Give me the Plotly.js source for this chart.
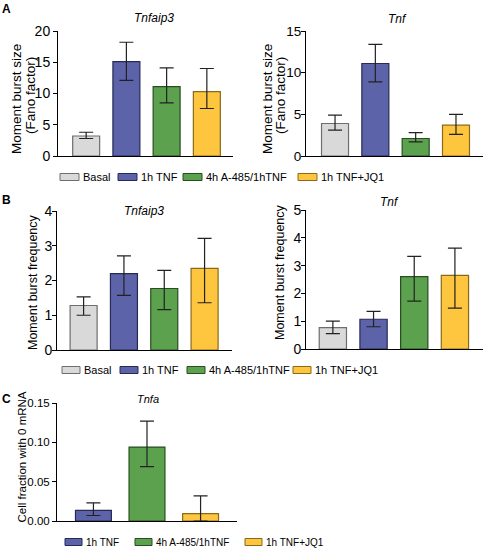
<!DOCTYPE html>
<html>
<head>
<meta charset="utf-8">
<script src="https://cdn.plot.ly/plotly-3.0.1.min.js"></script>
<style>html,body{margin:0;padding:0;background:#fff;}#chart{width:486px;height:549px;}</style>
</head>
<body>
<div id="chart"></div>
<script>
// ---- data ----
var categories4 = ["Basal", "1h TNF", "4h A-485/1hTNF", "1h TNF+JQ1"];
var categoriesC = ["1h TNF", "4h A-485/1hTNF", "1h TNF+JQ1"];

var colors4 = ["#d9d9d9", "#5d63a8", "#5ca14e", "#fec53f"];
var lines4 = ["#6e6e6e", "#262a55", "#284d22", "#8a6a1a"];
var colorsC = ["#5d63a8", "#5ca14e", "#fec53f"];
var linesC = ["#262a55", "#284d22", "#8a6a1a"];

// Panel A: moment burst size (Fano factor)
var sizeTnfaip3 = [3.2, 15.1, 11.1, 10.3];
var sizeTnfaip3Upper = [3.8, 18.2, 14.1, 14.0];
var sizeTnfaip3Lower = [2.8, 12.1, 8.5, 7.6];
var sizeTnf = [3.9, 11.1, 2.1, 3.7];
var sizeTnfUpper = [4.9, 13.4, 2.8, 5.0];
var sizeTnfLower = [3.1, 8.9, 1.7, 2.6];

// Panel B: moment burst frequency
var freqTnfaip3 = [1.28, 2.2, 1.77, 2.35];
var freqTnfaip3Upper = [1.53, 2.71, 2.29, 3.21];
var freqTnfaip3Lower = [1.0, 1.57, 1.16, 1.36];
var freqTnf = [0.77, 1.07, 2.6, 2.65];
var freqTnfUpper = [1.0, 1.35, 3.33, 3.63];
var freqTnfLower = [0.55, 0.8, 1.72, 1.47];

// Panel C: cell fraction with 0 mRNA
var zeroTnfa = [0.0135, 0.094, 0.0095];
var zeroTnfaUpper = [0.023, 0.127, 0.032];
var zeroTnfaLower = [0.007, 0.069, 0.0];

// ---- helpers ----
var W = 486, H = 549;
function px(x){ return x / W; }
function py(y){ return 1 - y / H; }
var FONT = "Arial, 'Liberation Sans', sans-serif";

function barTrace(cats, vals, upper, lower, fills, outlines, xa, ya){
  return {
    type: "bar", x: cats, y: vals, xaxis: xa, yaxis: ya, width: 0.67,
    marker: {color: fills, line: {color: outlines, width: 1.2}},
    error_y: {type: "data", symmetric: false,
      array: upper.map(function(u,i){return u - vals[i];}),
      arrayminus: lower.map(function(l,i){return vals[i] - l;}),
      color: "#222", thickness: 1.2, width: 7},
    showlegend: false, hoverinfo: "x+y"
  };
}

var data = [
  barTrace(categories4, sizeTnfaip3, sizeTnfaip3Upper, sizeTnfaip3Lower, colors4, lines4, "x", "y"),
  barTrace(categories4, sizeTnf, sizeTnfUpper, sizeTnfLower, colors4, lines4, "x2", "y2"),
  barTrace(categories4, freqTnfaip3, freqTnfaip3Upper, freqTnfaip3Lower, colors4, lines4, "x3", "y3"),
  barTrace(categories4, freqTnf, freqTnfUpper, freqTnfLower, colors4, lines4, "x4", "y4"),
  barTrace(categoriesC, zeroTnfa, zeroTnfaUpper, zeroTnfaLower, colorsC, linesC, "x5", "y5")
];

function xAxis(x0, x1, anchor, range){
  return {domain: [px(x0), px(x1)], anchor: anchor, type: "category", range: range,
    showline: true, linecolor: "#000", linewidth: 1, showticklabels: false, ticks: "",
    showgrid: false, zeroline: false, fixedrange: true};
}
function yAxis(y0, y1, anchor, range, dtick, tsize, standoff, fmt){
  return {domain: [py(y1), py(y0)], anchor: anchor, range: range, dtick: dtick, tick0: 0,
    showline: true, linecolor: "#000", linewidth: 1, ticks: "outside", ticklen: 4,
    tickwidth: 1, tickcolor: "#000", showgrid: false, zeroline: false,
    tickfont: {size: tsize, color: "#000", family: FONT}, tickformat: fmt || "",
    ticklabelstandoff: standoff,
    automargin: false, fixedrange: true};
}

var annotations = [];
function ann(text, x, y, size, extra){
  var a = {text: text, x: px(x), y: py(y), xref: "paper", yref: "paper",
    xanchor: "center", yanchor: "middle", showarrow: false,
    font: {size: size, color: "#000", family: FONT}};
  for (var k in extra) a[k] = extra[k];
  annotations.push(a);
}
// panel letters
ann("<b>A</b>", 6, 9, 12);
ann("<b>B</b>", 6, 200, 12);
ann("<b>C</b>", 6, 399, 12);
// gene titles
ann("<i>Tnfaip3</i>", 154, 18, 12);
ann("<i>Tnf</i>", 397, 19, 12);
ann("<i>Tnfaip3</i>", 144, 211, 12);
ann("<i>Tnf</i>", 389, 202, 12);
ann("<i>Tnfa</i>", 148, 399, 11);
// y-axis titles
ann("Moment burst size", 17, 99, 13.5, {textangle: -90});
ann("(Fano factor)", 31, 96, 13.5, {textangle: -90});
ann("Moment burst size", 268, 99, 13.5, {textangle: -90});
ann("(Fano factor)", 281, 96, 13.5, {textangle: -90});
ann("Moment burst frequency", 33, 282, 12.5, {textangle: -90});
ann("Moment burst frequency", 280, 272, 12.5, {textangle: -90});
ann("Cell fraction with 0 mRNA", 21.5, 457, 11.5, {textangle: -90});

var shapes = [];
function legendRow(labels, fills, outlines, boxX0, yc, boxW, size){
  for (var i = 0; i < labels.length; i++){
    shapes.push({type: "rect", xref: "paper", yref: "paper",
      x0: px(boxX0[i]), x1: px(boxX0[i] + boxW), y0: py(yc + 3.5), y1: py(yc - 3.5),
      fillcolor: fills[i], line: {color: outlines[i], width: 1}});
    ann(labels[i], boxX0[i] + boxW + 2, yc, size, {xanchor: "left"});
  }
}
legendRow(categories4, colors4, lines4, [60, 118, 183, 298], 177, 19, 11);
legendRow(categories4, colors4, lines4, [62, 120, 187, 293], 370, 18, 11);
legendRow(categoriesC, colorsC, linesC, [65, 135, 245], 542, 17, 10);

var layout = {
  width: W, height: H, margin: {l: 0, r: 0, t: 0, b: 0},
  paper_bgcolor: "#fff", plot_bgcolor: "#fff", barmode: "group", bargap: 0.33,
  font: {family: FONT, color: "#000"},
  xaxis: xAxis(58, 233, "y", [-0.7, 3.65]),
  yaxis: yAxis(31, 156, "x", [0, 20], 5, 14, 0),
  xaxis2: xAxis(306, 483, "y2", [-0.72, 3.67]),
  yaxis2: yAxis(31, 156, "x2", [0, 15], 5, 13.5, -3),
  xaxis3: xAxis(57, 232, "y3", [-0.66, 3.68]),
  yaxis3: yAxis(211, 350, "x3", [0, 4], 1, 14, -3),
  xaxis4: xAxis(306, 483, "y4", [-0.66, 3.69]),
  yaxis4: yAxis(210, 349, "x4", [0, 5], 1, 14, -3),
  xaxis5: xAxis(57, 237, "y5", [-0.68, 2.68]),
  yaxis5: yAxis(403, 521, "x5", [0, 0.15], 0.05, 11.5, 0, ".2f"),
  annotations: annotations, shapes: shapes, showlegend: false
};

Plotly.newPlot("chart", data, layout, {displayModeBar: false, staticPlot: true});
</script>
</body>
</html>
